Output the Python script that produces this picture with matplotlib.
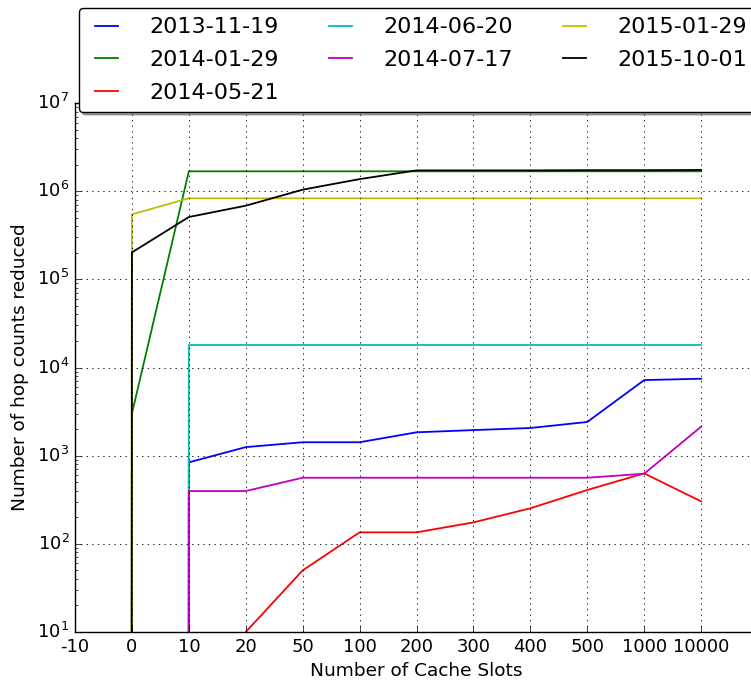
import matplotlib
matplotlib.use('Agg')
import matplotlib.pyplot as plt
import numpy as np

plt.style.use('classic')

# cache slot counts, plotted as evenly spaced categories
slot_labels = ['-10', '0', '10', '20', '50', '100', '200', '300', '400', '500', '1000', '10000']
slot_pos = np.arange(-1, len(slot_labels) - 1)

# hop counts reduced per snapshot (0 = nothing, drops off the log axis)
hops_2013_11_19 = [0, 0, 840, 1250, 1420, 1420, 1840, 1950, 2060, 2410, 7200, 7460]
hops_2014_01_29 = [0, 3000, 1.68e6, 1.68e6, 1.68e6, 1.68e6, 1.68e6, 1.68e6, 1.68e6, 1.68e6, 1.68e6, 1.68e6]
hops_2014_05_21 = [0, 0, 0, 10, 50, 135, 135, 175, 253, 408, 630, 303]
hops_2014_06_20 = [0, 0, 18000, 18000, 18000, 18000, 18000, 18000, 18000, 18000, 18000, 18000]
hops_2014_07_17 = [0, 0, 397, 397, 562, 562, 562, 562, 562, 562, 624, 2130]
hops_2015_01_29 = [0, 5.46e5, 8.3e5, 8.3e5, 8.3e5, 8.3e5, 8.3e5, 8.3e5, 8.3e5, 8.3e5, 8.3e5, 8.3e5]
hops_2015_10_01 = [0, 2.02e5, 5.09e5, 6.84e5, 1.04e6, 1.37e6, 1.72e6, 1.72e6, 1.72e6, 1.73e6, 1.73e6, 1.74e6]

series = [
    ('2013-11-19', hops_2013_11_19, 'b'),
    ('2014-01-29', hops_2014_01_29, 'g'),
    ('2014-05-21', hops_2014_05_21, 'r'),
    ('2014-06-20', hops_2014_06_20, 'c'),
    ('2014-07-17', hops_2014_07_17, 'm'),
    ('2015-01-29', hops_2015_01_29, 'y'),
    ('2015-10-01', hops_2015_10_01, 'k'),
]

W, H = 751, 683
fig = plt.figure(figsize=(W / 100, H / 100), dpi=100, facecolor='white')
# axes run a little past the right edge of the picture, like the original crop
ax = fig.add_axes([75 / W, 51 / H, 683 / W, 529 / H])
ax.set_yscale('log', nonpositive='clip')

for label, vals, col in series:
    ax.plot(slot_pos, vals, color=col, lw=1.3, label=label)

ax.set_xlim(-1, 11)
ax.set_ylim(10, 1e7)
ax.set_xticks(slot_pos)
ax.set_xticklabels(slot_labels)
ax.tick_params(labelsize=13)
ax.grid(True, which='major', color='k', linestyle=':', linewidth=0.6)

ax.set_xlabel('Number of Cache Slots', fontsize=13.3)
ax.set_ylabel('Number of hop counts reduced', fontsize=13.3, labelpad=6)

ax.legend(loc='upper left', bbox_to_anchor=(79 / W, 1 - 8 / H), bbox_transform=fig.transFigure,
          borderaxespad=0, ncol=3, fontsize=16, fancybox=True, shadow=True,
          handlelength=1.65, handletextpad=1.1, columnspacing=1.95, labelspacing=0.57, borderpad=0.42)

fig.savefig('out.png', dpi=100, facecolor='white')
